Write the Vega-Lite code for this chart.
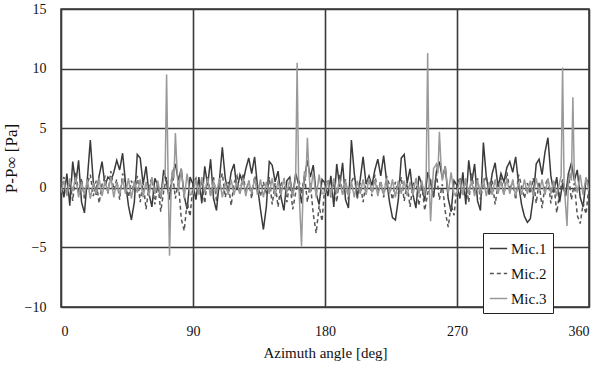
{
  "$schema": "https://vega.github.io/schema/vega-lite/v6.json",
  "autosize": "none",
  "padding": {"left": 61, "top": 9, "right": 10, "bottom": 67},
  "width": 528,
  "height": 298,
  "config": {
    "font": "Liberation Serif",
    "view": {"stroke": "#333", "strokeWidth": 1.5},
    "axis": {
      "labelFont": "Liberation Serif",
      "titleFont": "Liberation Serif",
      "labelFontSize": 14,
      "titleFontSize": 15,
      "titleFontWeight": "normal",
      "labelColor": "#111",
      "titleColor": "#111",
      "gridColor": "#3a3a3a",
      "gridWidth": 1.6,
      "gridOpacity": 1,
      "domain": false,
      "ticks": false
    },
    "legend": {"labelFont": "Liberation Serif", "labelFontSize": 15}
  },
  "data": {"values": [
{"a":0,"s":"Mic.1","p":0.5},{"a":2,"s":"Mic.1","p":-0.8},{"a":4,"s":"Mic.1","p":1.2},{"a":6,"s":"Mic.1","p":-1.5},{"a":8,"s":"Mic.1","p":2.2},{"a":10,"s":"Mic.1","p":0.3},{"a":12,"s":"Mic.1","p":2.3},{"a":14,"s":"Mic.1","p":-1.2},{"a":16,"s":"Mic.1","p":-2.1},{"a":18,"s":"Mic.1","p":0.8},{"a":20,"s":"Mic.1","p":4.0},{"a":22,"s":"Mic.1","p":0.5},{"a":24,"s":"Mic.1","p":-0.6},{"a":26,"s":"Mic.1","p":1.0},{"a":28,"s":"Mic.1","p":2.2},{"a":30,"s":"Mic.1","p":0.2},{"a":32,"s":"Mic.1","p":0.9},{"a":34,"s":"Mic.1","p":0.6},{"a":36,"s":"Mic.1","p":1.3},{"a":38,"s":"Mic.1","p":2.3},{"a":40,"s":"Mic.1","p":1.5},{"a":42,"s":"Mic.1","p":2.9},{"a":44,"s":"Mic.1","p":0.4},{"a":46,"s":"Mic.1","p":-1.5},{"a":48,"s":"Mic.1","p":-2.7},{"a":50,"s":"Mic.1","p":-1.2},{"a":52,"s":"Mic.1","p":2.8},{"a":54,"s":"Mic.1","p":2.5},{"a":56,"s":"Mic.1","p":0.3},{"a":58,"s":"Mic.1","p":1.8},{"a":60,"s":"Mic.1","p":-0.5},{"a":62,"s":"Mic.1","p":-1.6},{"a":64,"s":"Mic.1","p":0.8},{"a":66,"s":"Mic.1","p":0.2},{"a":68,"s":"Mic.1","p":-0.9},{"a":70,"s":"Mic.1","p":1.5},{"a":72,"s":"Mic.1","p":0.4},{"a":74,"s":"Mic.1","p":-1.0},{"a":76,"s":"Mic.1","p":1.1},{"a":78,"s":"Mic.1","p":2.0},{"a":80,"s":"Mic.1","p":0.6},{"a":82,"s":"Mic.1","p":1.6},{"a":84,"s":"Mic.1","p":-0.7},{"a":86,"s":"Mic.1","p":-1.8},{"a":88,"s":"Mic.1","p":0.9},
{"a":90,"s":"Mic.1","p":0.3},{"a":92,"s":"Mic.1","p":-1.0},{"a":94,"s":"Mic.1","p":0.9},{"a":96,"s":"Mic.1","p":-1.3},{"a":98,"s":"Mic.1","p":1.8},{"a":100,"s":"Mic.1","p":0.2},{"a":102,"s":"Mic.1","p":2.4},{"a":104,"s":"Mic.1","p":-0.9},{"a":106,"s":"Mic.1","p":-1.9},{"a":108,"s":"Mic.1","p":0.6},{"a":110,"s":"Mic.1","p":3.4},{"a":112,"s":"Mic.1","p":0.8},{"a":114,"s":"Mic.1","p":-0.4},{"a":116,"s":"Mic.1","p":1.3},{"a":118,"s":"Mic.1","p":2.0},{"a":120,"s":"Mic.1","p":-0.2},{"a":122,"s":"Mic.1","p":1.1},{"a":124,"s":"Mic.1","p":0.4},{"a":126,"s":"Mic.1","p":1.6},{"a":128,"s":"Mic.1","p":2.5},{"a":130,"s":"Mic.1","p":1.2},{"a":132,"s":"Mic.1","p":2.6},{"a":134,"s":"Mic.1","p":0.1},{"a":136,"s":"Mic.1","p":-1.8},{"a":138,"s":"Mic.1","p":-3.5},{"a":140,"s":"Mic.1","p":-1.6},{"a":142,"s":"Mic.1","p":2.2},{"a":144,"s":"Mic.1","p":1.9},{"a":146,"s":"Mic.1","p":0.5},{"a":148,"s":"Mic.1","p":1.4},{"a":150,"s":"Mic.1","p":-0.8},{"a":152,"s":"Mic.1","p":-1.9},{"a":154,"s":"Mic.1","p":0.6},{"a":156,"s":"Mic.1","p":0.9},{"a":158,"s":"Mic.1","p":-0.7},{"a":160,"s":"Mic.1","p":1.2},{"a":162,"s":"Mic.1","p":0.3},{"a":164,"s":"Mic.1","p":-1.3},{"a":166,"s":"Mic.1","p":0.8},{"a":168,"s":"Mic.1","p":2.3},{"a":170,"s":"Mic.1","p":0.9},{"a":172,"s":"Mic.1","p":1.9},{"a":174,"s":"Mic.1","p":-0.5},{"a":176,"s":"Mic.1","p":-1.4},{"a":178,"s":"Mic.1","p":0.7},
{"a":180,"s":"Mic.1","p":0.4},{"a":182,"s":"Mic.1","p":-0.7},{"a":184,"s":"Mic.1","p":1.0},{"a":186,"s":"Mic.1","p":-1.6},{"a":188,"s":"Mic.1","p":2.0},{"a":190,"s":"Mic.1","p":0.1},{"a":192,"s":"Mic.1","p":2.1},{"a":194,"s":"Mic.1","p":-1.0},{"a":196,"s":"Mic.1","p":-1.7},{"a":198,"s":"Mic.1","p":4.0},{"a":200,"s":"Mic.1","p":1.2},{"a":202,"s":"Mic.1","p":-0.8},{"a":204,"s":"Mic.1","p":0.7},{"a":206,"s":"Mic.1","p":2.6},{"a":208,"s":"Mic.1","p":0.3},{"a":210,"s":"Mic.1","p":1.0},{"a":212,"s":"Mic.1","p":0.2},{"a":214,"s":"Mic.1","p":1.5},{"a":216,"s":"Mic.1","p":2.4},{"a":218,"s":"Mic.1","p":1.0},{"a":220,"s":"Mic.1","p":2.7},{"a":222,"s":"Mic.1","p":0.6},{"a":224,"s":"Mic.1","p":-1.2},{"a":226,"s":"Mic.1","p":-2.5},{"a":228,"s":"Mic.1","p":-2.7},{"a":230,"s":"Mic.1","p":-1.0},{"a":232,"s":"Mic.1","p":2.5},{"a":234,"s":"Mic.1","p":2.8},{"a":236,"s":"Mic.1","p":0.4},{"a":238,"s":"Mic.1","p":1.6},{"a":240,"s":"Mic.1","p":-0.6},{"a":242,"s":"Mic.1","p":-1.7},{"a":244,"s":"Mic.1","p":1.0},{"a":246,"s":"Mic.1","p":0.3},{"a":248,"s":"Mic.1","p":-1.1},{"a":250,"s":"Mic.1","p":1.3},{"a":252,"s":"Mic.1","p":0.5},{"a":254,"s":"Mic.1","p":-0.8},{"a":256,"s":"Mic.1","p":1.4},{"a":258,"s":"Mic.1","p":2.2},{"a":260,"s":"Mic.1","p":0.8},{"a":262,"s":"Mic.1","p":1.8},{"a":264,"s":"Mic.1","p":-0.9},{"a":266,"s":"Mic.1","p":-2.0},{"a":268,"s":"Mic.1","p":0.6},
{"a":270,"s":"Mic.1","p":0.2},{"a":272,"s":"Mic.1","p":-0.9},{"a":274,"s":"Mic.1","p":1.3},{"a":276,"s":"Mic.1","p":-1.4},{"a":278,"s":"Mic.1","p":2.3},{"a":280,"s":"Mic.1","p":0.4},{"a":282,"s":"Mic.1","p":2.0},{"a":284,"s":"Mic.1","p":-1.1},{"a":286,"s":"Mic.1","p":-1.9},{"a":288,"s":"Mic.1","p":3.8},{"a":290,"s":"Mic.1","p":0.9},{"a":292,"s":"Mic.1","p":-0.5},{"a":294,"s":"Mic.1","p":1.2},{"a":296,"s":"Mic.1","p":2.1},{"a":298,"s":"Mic.1","p":0.1},{"a":300,"s":"Mic.1","p":1.2},{"a":302,"s":"Mic.1","p":0.5},{"a":304,"s":"Mic.1","p":1.7},{"a":306,"s":"Mic.1","p":2.2},{"a":308,"s":"Mic.1","p":1.3},{"a":310,"s":"Mic.1","p":2.6},{"a":312,"s":"Mic.1","p":0.3},{"a":314,"s":"Mic.1","p":-1.4},{"a":316,"s":"Mic.1","p":-2.4},{"a":318,"s":"Mic.1","p":-2.9},{"a":320,"s":"Mic.1","p":-2.6},{"a":322,"s":"Mic.1","p":-0.8},{"a":324,"s":"Mic.1","p":2.0},{"a":326,"s":"Mic.1","p":2.4},{"a":328,"s":"Mic.1","p":1.1},{"a":330,"s":"Mic.1","p":3.0},{"a":332,"s":"Mic.1","p":4.2},{"a":334,"s":"Mic.1","p":1.0},{"a":336,"s":"Mic.1","p":-0.4},{"a":338,"s":"Mic.1","p":0.9},{"a":340,"s":"Mic.1","p":-1.2},{"a":342,"s":"Mic.1","p":0.4},{"a":344,"s":"Mic.1","p":-0.7},{"a":346,"s":"Mic.1","p":1.2},{"a":348,"s":"Mic.1","p":2.1},{"a":350,"s":"Mic.1","p":0.6},{"a":352,"s":"Mic.1","p":1.5},{"a":354,"s":"Mic.1","p":-0.8},{"a":356,"s":"Mic.1","p":-1.6},{"a":358,"s":"Mic.1","p":0.7},{"a":360,"s":"Mic.1","p":0.5},
{"a":0,"s":"Mic.2","p":0.2},{"a":2,"s":"Mic.2","p":0.9},{"a":4,"s":"Mic.2","p":-0.6},{"a":6,"s":"Mic.2","p":0.5},{"a":8,"s":"Mic.2","p":-1.1},{"a":10,"s":"Mic.2","p":1.3},{"a":12,"s":"Mic.2","p":-0.4},{"a":14,"s":"Mic.2","p":0.8},{"a":16,"s":"Mic.2","p":-0.9},{"a":18,"s":"Mic.2","p":0.4},{"a":20,"s":"Mic.2","p":1.1},{"a":22,"s":"Mic.2","p":-0.7},{"a":24,"s":"Mic.2","p":0.6},{"a":26,"s":"Mic.2","p":-1.3},{"a":28,"s":"Mic.2","p":0.3},{"a":30,"s":"Mic.2","p":0.9},{"a":32,"s":"Mic.2","p":-0.5},{"a":34,"s":"Mic.2","p":1.4},{"a":36,"s":"Mic.2","p":-0.2},{"a":38,"s":"Mic.2","p":0.7},{"a":40,"s":"Mic.2","p":-1.0},{"a":42,"s":"Mic.2","p":1.2},{"a":44,"s":"Mic.2","p":0.3},{"a":46,"s":"Mic.2","p":-0.8},{"a":48,"s":"Mic.2","p":0.6},{"a":50,"s":"Mic.2","p":-0.4},{"a":52,"s":"Mic.2","p":1.0},{"a":54,"s":"Mic.2","p":-1.2},{"a":56,"s":"Mic.2","p":0.5},{"a":58,"s":"Mic.2","p":-1.8},{"a":60,"s":"Mic.2","p":0.2},{"a":62,"s":"Mic.2","p":0.8},{"a":64,"s":"Mic.2","p":-1.4},{"a":66,"s":"Mic.2","p":0.4},{"a":68,"s":"Mic.2","p":-2.0},{"a":70,"s":"Mic.2","p":-0.3},{"a":72,"s":"Mic.2","p":0.9},{"a":74,"s":"Mic.2","p":-0.6},{"a":76,"s":"Mic.2","p":1.3},{"a":78,"s":"Mic.2","p":-0.9},{"a":80,"s":"Mic.2","p":0.5},{"a":82,"s":"Mic.2","p":-2.6},{"a":84,"s":"Mic.2","p":-3.6},{"a":86,"s":"Mic.2","p":-1.2},{"a":88,"s":"Mic.2","p":-2.4},
{"a":90,"s":"Mic.2","p":0.3},{"a":92,"s":"Mic.2","p":0.8},{"a":94,"s":"Mic.2","p":-0.5},{"a":96,"s":"Mic.2","p":0.6},{"a":98,"s":"Mic.2","p":-1.3},{"a":100,"s":"Mic.2","p":1.0},{"a":102,"s":"Mic.2","p":-0.6},{"a":104,"s":"Mic.2","p":0.9},{"a":106,"s":"Mic.2","p":-1.1},{"a":108,"s":"Mic.2","p":0.3},{"a":110,"s":"Mic.2","p":1.2},{"a":112,"s":"Mic.2","p":-0.8},{"a":114,"s":"Mic.2","p":0.5},{"a":116,"s":"Mic.2","p":-1.5},{"a":118,"s":"Mic.2","p":0.4},{"a":120,"s":"Mic.2","p":1.0},{"a":122,"s":"Mic.2","p":-0.6},{"a":124,"s":"Mic.2","p":1.2},{"a":126,"s":"Mic.2","p":-0.3},{"a":128,"s":"Mic.2","p":0.6},{"a":130,"s":"Mic.2","p":-0.9},{"a":132,"s":"Mic.2","p":1.0},{"a":134,"s":"Mic.2","p":0.2},{"a":136,"s":"Mic.2","p":-0.7},{"a":138,"s":"Mic.2","p":0.5},{"a":140,"s":"Mic.2","p":-0.6},{"a":142,"s":"Mic.2","p":0.9},{"a":144,"s":"Mic.2","p":-1.4},{"a":146,"s":"Mic.2","p":0.4},{"a":148,"s":"Mic.2","p":-1.6},{"a":150,"s":"Mic.2","p":0.3},{"a":152,"s":"Mic.2","p":0.7},{"a":154,"s":"Mic.2","p":-1.2},{"a":156,"s":"Mic.2","p":0.5},{"a":158,"s":"Mic.2","p":-1.8},{"a":160,"s":"Mic.2","p":-0.4},{"a":162,"s":"Mic.2","p":0.8},{"a":164,"s":"Mic.2","p":-0.5},{"a":166,"s":"Mic.2","p":1.1},{"a":168,"s":"Mic.2","p":-1.2},{"a":170,"s":"Mic.2","p":0.4},{"a":172,"s":"Mic.2","p":-2.2},{"a":174,"s":"Mic.2","p":-3.8},{"a":176,"s":"Mic.2","p":-1.5},{"a":178,"s":"Mic.2","p":-2.8},
{"a":180,"s":"Mic.2","p":0.4},{"a":182,"s":"Mic.2","p":0.7},{"a":184,"s":"Mic.2","p":-0.8},{"a":186,"s":"Mic.2","p":0.5},{"a":188,"s":"Mic.2","p":-1.2},{"a":190,"s":"Mic.2","p":1.1},{"a":192,"s":"Mic.2","p":-0.5},{"a":194,"s":"Mic.2","p":0.7},{"a":196,"s":"Mic.2","p":-1.0},{"a":198,"s":"Mic.2","p":0.5},{"a":200,"s":"Mic.2","p":1.0},{"a":202,"s":"Mic.2","p":-0.9},{"a":204,"s":"Mic.2","p":0.4},{"a":206,"s":"Mic.2","p":-1.2},{"a":208,"s":"Mic.2","p":0.5},{"a":210,"s":"Mic.2","p":0.8},{"a":212,"s":"Mic.2","p":-0.7},{"a":214,"s":"Mic.2","p":1.1},{"a":216,"s":"Mic.2","p":-0.4},{"a":218,"s":"Mic.2","p":0.6},{"a":220,"s":"Mic.2","p":-0.8},{"a":222,"s":"Mic.2","p":1.0},{"a":224,"s":"Mic.2","p":0.2},{"a":226,"s":"Mic.2","p":-1.0},{"a":228,"s":"Mic.2","p":0.5},{"a":230,"s":"Mic.2","p":-0.5},{"a":232,"s":"Mic.2","p":0.9},{"a":234,"s":"Mic.2","p":-1.1},{"a":236,"s":"Mic.2","p":0.4},{"a":238,"s":"Mic.2","p":-1.6},{"a":240,"s":"Mic.2","p":0.3},{"a":242,"s":"Mic.2","p":0.7},{"a":244,"s":"Mic.2","p":-1.5},{"a":246,"s":"Mic.2","p":0.3},{"a":248,"s":"Mic.2","p":-1.9},{"a":250,"s":"Mic.2","p":-0.5},{"a":252,"s":"Mic.2","p":0.7},{"a":254,"s":"Mic.2","p":-0.8},{"a":256,"s":"Mic.2","p":1.2},{"a":258,"s":"Mic.2","p":-1.0},{"a":260,"s":"Mic.2","p":0.3},{"a":262,"s":"Mic.2","p":-2.0},{"a":264,"s":"Mic.2","p":-3.3},{"a":266,"s":"Mic.2","p":-1.4},{"a":268,"s":"Mic.2","p":-2.3},
{"a":270,"s":"Mic.2","p":0.2},{"a":272,"s":"Mic.2","p":0.9},{"a":274,"s":"Mic.2","p":-0.6},{"a":276,"s":"Mic.2","p":0.4},{"a":278,"s":"Mic.2","p":-1.2},{"a":280,"s":"Mic.2","p":1.2},{"a":282,"s":"Mic.2","p":-0.5},{"a":284,"s":"Mic.2","p":0.8},{"a":286,"s":"Mic.2","p":-1.0},{"a":288,"s":"Mic.2","p":0.4},{"a":290,"s":"Mic.2","p":1.0},{"a":292,"s":"Mic.2","p":-0.7},{"a":294,"s":"Mic.2","p":0.6},{"a":296,"s":"Mic.2","p":-1.4},{"a":298,"s":"Mic.2","p":0.3},{"a":300,"s":"Mic.2","p":0.8},{"a":302,"s":"Mic.2","p":-0.6},{"a":304,"s":"Mic.2","p":1.3},{"a":306,"s":"Mic.2","p":-0.2},{"a":308,"s":"Mic.2","p":0.6},{"a":310,"s":"Mic.2","p":-1.0},{"a":312,"s":"Mic.2","p":1.1},{"a":314,"s":"Mic.2","p":0.2},{"a":316,"s":"Mic.2","p":-0.9},{"a":318,"s":"Mic.2","p":0.4},{"a":320,"s":"Mic.2","p":-0.5},{"a":322,"s":"Mic.2","p":0.8},{"a":324,"s":"Mic.2","p":-1.3},{"a":326,"s":"Mic.2","p":0.5},{"a":328,"s":"Mic.2","p":-1.7},{"a":330,"s":"Mic.2","p":0.2},{"a":332,"s":"Mic.2","p":0.8},{"a":334,"s":"Mic.2","p":-1.3},{"a":336,"s":"Mic.2","p":0.4},{"a":338,"s":"Mic.2","p":-2.1},{"a":340,"s":"Mic.2","p":-0.4},{"a":342,"s":"Mic.2","p":0.7},{"a":344,"s":"Mic.2","p":-0.7},{"a":346,"s":"Mic.2","p":1.2},{"a":348,"s":"Mic.2","p":-1.0},{"a":350,"s":"Mic.2","p":0.4},{"a":352,"s":"Mic.2","p":-2.3},{"a":354,"s":"Mic.2","p":-3.0},{"a":356,"s":"Mic.2","p":-1.3},{"a":358,"s":"Mic.2","p":-2.2},{"a":360,"s":"Mic.2","p":0.2},
{"a":0,"s":"Mic.3","p":-0.4},{"a":2,"s":"Mic.3","p":0.6},{"a":4,"s":"Mic.3","p":-0.7},{"a":6,"s":"Mic.3","p":0.8},{"a":8,"s":"Mic.3","p":-0.3},{"a":10,"s":"Mic.3","p":0.9},{"a":12,"s":"Mic.3","p":-0.8},{"a":14,"s":"Mic.3","p":0.5},{"a":16,"s":"Mic.3","p":-0.6},{"a":18,"s":"Mic.3","p":0.7},{"a":20,"s":"Mic.3","p":-0.9},{"a":22,"s":"Mic.3","p":0.4},{"a":24,"s":"Mic.3","p":-0.5},{"a":26,"s":"Mic.3","p":0.8},{"a":28,"s":"Mic.3","p":-0.7},{"a":30,"s":"Mic.3","p":0.6},{"a":32,"s":"Mic.3","p":-0.4},{"a":34,"s":"Mic.3","p":0.9},{"a":36,"s":"Mic.3","p":-0.8},{"a":38,"s":"Mic.3","p":0.5},{"a":40,"s":"Mic.3","p":-0.6},{"a":42,"s":"Mic.3","p":0.7},{"a":44,"s":"Mic.3","p":-0.5},{"a":46,"s":"Mic.3","p":0.8},{"a":48,"s":"Mic.3","p":-0.9},{"a":50,"s":"Mic.3","p":0.6},{"a":52,"s":"Mic.3","p":-0.4},{"a":54,"s":"Mic.3","p":0.7},{"a":56,"s":"Mic.3","p":-0.8},{"a":58,"s":"Mic.3","p":0.5},{"a":60,"s":"Mic.3","p":-0.7},{"a":62,"s":"Mic.3","p":0.9},{"a":64,"s":"Mic.3","p":-0.5},{"a":66,"s":"Mic.3","p":0.6},{"a":68,"s":"Mic.3","p":-0.8},{"a":70,"s":"Mic.3","p":0.7},{"a":71,"s":"Mic.3","p":1.2},{"a":72,"s":"Mic.3","p":9.5},{"a":73,"s":"Mic.3","p":1.0},{"a":74,"s":"Mic.3","p":-5.7},{"a":75,"s":"Mic.3","p":-0.6},{"a":76,"s":"Mic.3","p":1.5},{"a":77,"s":"Mic.3","p":0.8},{"a":78,"s":"Mic.3","p":4.6},{"a":79,"s":"Mic.3","p":1.8},{"a":80,"s":"Mic.3","p":-0.3},{"a":82,"s":"Mic.3","p":1.6},{"a":84,"s":"Mic.3","p":-0.9},{"a":86,"s":"Mic.3","p":1.2},{"a":88,"s":"Mic.3","p":-0.6},
{"a":90,"s":"Mic.3","p":-0.5},{"a":92,"s":"Mic.3","p":0.7},{"a":94,"s":"Mic.3","p":-0.6},{"a":96,"s":"Mic.3","p":0.9},{"a":98,"s":"Mic.3","p":-0.4},{"a":100,"s":"Mic.3","p":0.8},{"a":102,"s":"Mic.3","p":-0.7},{"a":104,"s":"Mic.3","p":0.6},{"a":106,"s":"Mic.3","p":-0.5},{"a":108,"s":"Mic.3","p":0.8},{"a":110,"s":"Mic.3","p":-0.8},{"a":112,"s":"Mic.3","p":0.5},{"a":114,"s":"Mic.3","p":-0.6},{"a":116,"s":"Mic.3","p":0.7},{"a":118,"s":"Mic.3","p":-0.6},{"a":120,"s":"Mic.3","p":0.5},{"a":122,"s":"Mic.3","p":-0.5},{"a":124,"s":"Mic.3","p":0.8},{"a":126,"s":"Mic.3","p":-0.7},{"a":128,"s":"Mic.3","p":0.6},{"a":130,"s":"Mic.3","p":-0.5},{"a":132,"s":"Mic.3","p":0.8},{"a":134,"s":"Mic.3","p":-0.6},{"a":136,"s":"Mic.3","p":0.7},{"a":138,"s":"Mic.3","p":-0.8},{"a":140,"s":"Mic.3","p":0.5},{"a":142,"s":"Mic.3","p":-0.5},{"a":144,"s":"Mic.3","p":0.8},{"a":146,"s":"Mic.3","p":-0.7},{"a":148,"s":"Mic.3","p":0.6},{"a":150,"s":"Mic.3","p":-0.6},{"a":152,"s":"Mic.3","p":0.8},{"a":154,"s":"Mic.3","p":-0.4},{"a":156,"s":"Mic.3","p":0.7},{"a":158,"s":"Mic.3","p":-0.7},{"a":160,"s":"Mic.3","p":0.8},{"a":161,"s":"Mic.3","p":10.5},{"a":162,"s":"Mic.3","p":0.6},{"a":164,"s":"Mic.3","p":-4.9},{"a":165,"s":"Mic.3","p":-0.5},{"a":166,"s":"Mic.3","p":1.4},{"a":167,"s":"Mic.3","p":0.9},{"a":168,"s":"Mic.3","p":4.2},{"a":169,"s":"Mic.3","p":1.5},{"a":170,"s":"Mic.3","p":-0.4},{"a":172,"s":"Mic.3","p":1.3},{"a":174,"s":"Mic.3","p":-0.8},{"a":176,"s":"Mic.3","p":1.1},{"a":178,"s":"Mic.3","p":-0.5},
{"a":180,"s":"Mic.3","p":-0.4},{"a":182,"s":"Mic.3","p":0.6},{"a":184,"s":"Mic.3","p":-0.7},{"a":186,"s":"Mic.3","p":0.8},{"a":188,"s":"Mic.3","p":-0.5},{"a":190,"s":"Mic.3","p":0.7},{"a":192,"s":"Mic.3","p":-0.6},{"a":194,"s":"Mic.3","p":0.6},{"a":196,"s":"Mic.3","p":-0.7},{"a":198,"s":"Mic.3","p":0.5},{"a":200,"s":"Mic.3","p":-0.8},{"a":202,"s":"Mic.3","p":0.6},{"a":204,"s":"Mic.3","p":-0.5},{"a":206,"s":"Mic.3","p":0.7},{"a":208,"s":"Mic.3","p":-0.6},{"a":210,"s":"Mic.3","p":0.8},{"a":212,"s":"Mic.3","p":-0.4},{"a":214,"s":"Mic.3","p":0.7},{"a":216,"s":"Mic.3","p":-0.7},{"a":218,"s":"Mic.3","p":0.5},{"a":220,"s":"Mic.3","p":-0.6},{"a":222,"s":"Mic.3","p":0.8},{"a":224,"s":"Mic.3","p":-0.5},{"a":226,"s":"Mic.3","p":0.7},{"a":228,"s":"Mic.3","p":-0.8},{"a":230,"s":"Mic.3","p":0.6},{"a":232,"s":"Mic.3","p":-0.5},{"a":234,"s":"Mic.3","p":0.6},{"a":236,"s":"Mic.3","p":-0.7},{"a":238,"s":"Mic.3","p":0.5},{"a":240,"s":"Mic.3","p":-0.6},{"a":242,"s":"Mic.3","p":0.8},{"a":244,"s":"Mic.3","p":-0.5},{"a":246,"s":"Mic.3","p":0.6},{"a":248,"s":"Mic.3","p":-0.7},{"a":249,"s":"Mic.3","p":1.0},{"a":250,"s":"Mic.3","p":11.3},{"a":251,"s":"Mic.3","p":0.5},{"a":252,"s":"Mic.3","p":-2.8},{"a":253,"s":"Mic.3","p":-0.3},{"a":254,"s":"Mic.3","p":1.6},{"a":256,"s":"Mic.3","p":2.0},{"a":257,"s":"Mic.3","p":1.2},{"a":258,"s":"Mic.3","p":4.7},{"a":259,"s":"Mic.3","p":2.2},{"a":260,"s":"Mic.3","p":0.6},{"a":262,"s":"Mic.3","p":1.8},{"a":264,"s":"Mic.3","p":-0.5},{"a":266,"s":"Mic.3","p":1.3},{"a":268,"s":"Mic.3","p":-0.6},
{"a":270,"s":"Mic.3","p":-0.5},{"a":272,"s":"Mic.3","p":0.7},{"a":274,"s":"Mic.3","p":-0.6},{"a":276,"s":"Mic.3","p":0.8},{"a":278,"s":"Mic.3","p":-0.5},{"a":280,"s":"Mic.3","p":0.6},{"a":282,"s":"Mic.3","p":-0.7},{"a":284,"s":"Mic.3","p":0.6},{"a":286,"s":"Mic.3","p":-0.5},{"a":288,"s":"Mic.3","p":0.8},{"a":290,"s":"Mic.3","p":-0.7},{"a":292,"s":"Mic.3","p":0.5},{"a":294,"s":"Mic.3","p":-0.6},{"a":296,"s":"Mic.3","p":0.7},{"a":298,"s":"Mic.3","p":-0.5},{"a":300,"s":"Mic.3","p":0.6},{"a":302,"s":"Mic.3","p":-0.6},{"a":304,"s":"Mic.3","p":0.8},{"a":306,"s":"Mic.3","p":-0.5},{"a":308,"s":"Mic.3","p":0.7},{"a":310,"s":"Mic.3","p":-0.7},{"a":312,"s":"Mic.3","p":0.5},{"a":314,"s":"Mic.3","p":-0.6},{"a":316,"s":"Mic.3","p":0.7},{"a":318,"s":"Mic.3","p":-0.5},{"a":320,"s":"Mic.3","p":0.6},{"a":322,"s":"Mic.3","p":-0.7},{"a":324,"s":"Mic.3","p":0.8},{"a":326,"s":"Mic.3","p":-0.4},{"a":328,"s":"Mic.3","p":0.7},{"a":330,"s":"Mic.3","p":-0.6},{"a":332,"s":"Mic.3","p":0.8},{"a":334,"s":"Mic.3","p":-0.5},{"a":336,"s":"Mic.3","p":0.6},{"a":338,"s":"Mic.3","p":-0.7},{"a":340,"s":"Mic.3","p":0.5},{"a":341,"s":"Mic.3","p":1.0},{"a":342,"s":"Mic.3","p":10.1},{"a":343,"s":"Mic.3","p":0.4},{"a":345,"s":"Mic.3","p":-3.2},{"a":346,"s":"Mic.3","p":0.5},{"a":347,"s":"Mic.3","p":1.2},{"a":348,"s":"Mic.3","p":0.6},{"a":349,"s":"Mic.3","p":7.6},{"a":350,"s":"Mic.3","p":0.8},{"a":352,"s":"Mic.3","p":-0.4},{"a":354,"s":"Mic.3","p":1.1},{"a":356,"s":"Mic.3","p":-0.6},{"a":358,"s":"Mic.3","p":0.9},{"a":360,"s":"Mic.3","p":-0.3}
  ]},
  "mark": {"type": "line", "strokeWidth": 1.5, "clip": true},
  "encoding": {
    "x": {
      "field": "a", "type": "quantitative",
      "scale": {"domain": [0, 360], "nice": false},
      "axis": {"values": [0, 90, 180, 270, 360], "title": "Azimuth angle [deg]", "labelPadding": 17, "titlePadding": 7, "titleFontSize": 15}
    },
    "y": {
      "field": "p", "type": "quantitative",
      "scale": {"domain": [-10, 15], "nice": false},
      "axis": {"values": [-10, -5, 0, 5, 10, 15], "title": "P-P∞ [Pa]", "labelPadding": 15, "titlePadding": 4, "titleFontSize": 17}
    },
    "color": {
      "field": "s", "type": "nominal",
      "scale": {"domain": ["Mic.1", "Mic.2", "Mic.3"], "range": ["#3a3a3a", "#555555", "#999999"]},
      "legend": {
        "title": null, "orient": "none", "legendX": 422, "legendY": 224,
        "strokeColor": "#222", "fillColor": "white", "padding": 6, "rowPadding": 7,
        "symbolType": "stroke", "symbolSize": 300, "symbolStrokeWidth": 1.5,
        "labelFont": "Liberation Serif", "labelFontSize": 15, "labelColor": "#111", "labelOffset": 3
      }
    },
    "strokeDash": {
      "field": "s", "type": "nominal",
      "scale": {"domain": ["Mic.1", "Mic.2", "Mic.3"], "range": [[1, 0], [4, 3], [1, 0]]},
      "legend": {"title": null}
    },
    "strokeWidth": {
      "field": "s", "type": "nominal",
      "scale": {"domain": ["Mic.1", "Mic.2", "Mic.3"], "range": [1.5, 1.4, 2.2]},
      "legend": null
    },
    "order": {"field": "a", "type": "quantitative"}
  }
}
